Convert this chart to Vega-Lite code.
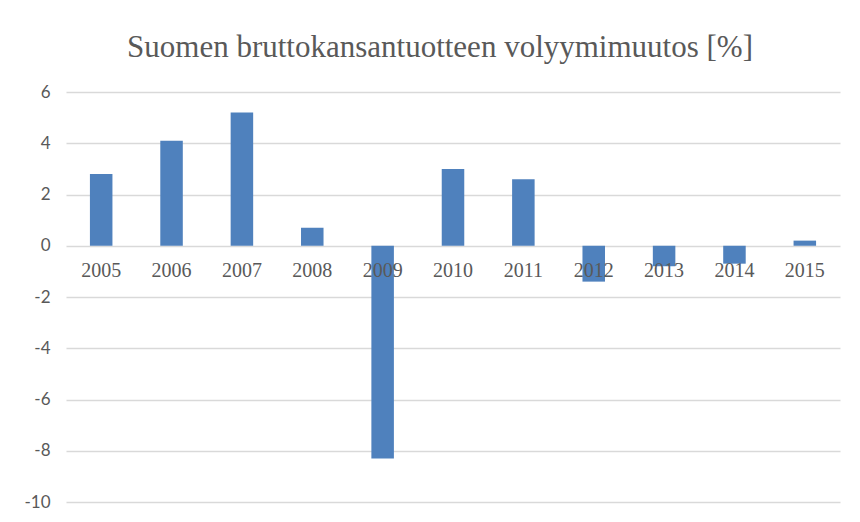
{
  "$schema": "https://vega.github.io/schema/vega-lite/v6.json",
  "autosize": {"type": "none"},
  "padding": {"left": 66, "top": 92, "right": 20, "bottom": 20},
  "width": 774,
  "height": 410,
  "background": "white",
  "title": {
    "text": "Suomen bruttokansantuotteen  volyymimuutos [%]",
    "font": "Liberation Serif",
    "fontSize": 31,
    "fontWeight": "normal",
    "color": "#595959",
    "anchor": "middle",
    "offset": 19,
    "dx": -13
  },
  "data": {
    "values": [
      {"year": "2005", "change": 2.8},
      {"year": "2006", "change": 4.1},
      {"year": "2007", "change": 5.2},
      {"year": "2008", "change": 0.7},
      {"year": "2009", "change": -8.3},
      {"year": "2010", "change": 3.0},
      {"year": "2011", "change": 2.6},
      {"year": "2012", "change": -1.4},
      {"year": "2013", "change": -0.8},
      {"year": "2014", "change": -0.7},
      {"year": "2015", "change": 0.2}
    ]
  },
  "config": {
    "view": {"stroke": null},
    "axis": {"labelColor": "#595959"}
  },
  "mark": {"type": "bar", "color": "#4F81BD"},
  "encoding": {
    "x": {
      "field": "year",
      "type": "nominal",
      "sort": null,
      "scale": {"paddingInner": 0.68, "paddingOuter": 0.34},
      "axis": {
        "title": null,
        "labelAngle": 0,
        "labelFont": "Liberation Serif",
        "labelFontSize": 20,
        "domain": false,
        "ticks": false,
        "tickSize": 0,
        "labelPadding": 15,
        "offset": -256.4,
        "grid": false,
        "zindex": 2
      }
    },
    "y": {
      "field": "change",
      "type": "quantitative",
      "scale": {"domain": [-10, 6], "nice": false},
      "axis": {
        "title": null,
        "values": [-10, -8, -6, -4, -2, 0, 2, 4, 6],
        "labelExpr": "'' + datum.value",
        "labelFont": "Lato",
        "labelFontSize": 17,
        "domain": false,
        "ticks": false,
        "tickSize": 0,
        "labelPadding": 16,
        "grid": true,
        "gridColor": "#D9D9D9",
        "gridWidth": 1.5
      }
    }
  }
}
